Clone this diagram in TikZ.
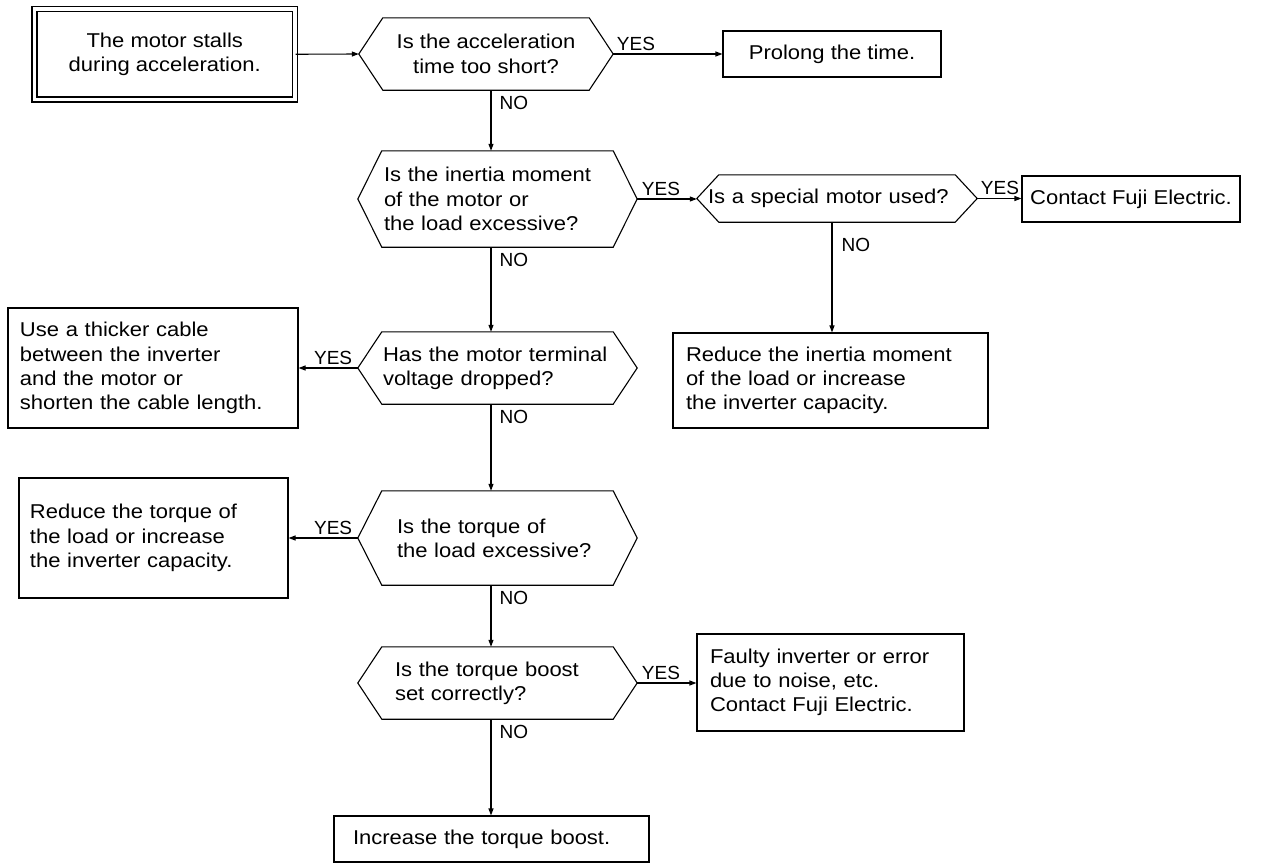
\documentclass[tikz,border=0pt]{standalone}
\usepackage{fontspec}
\setmainfont{Liberation Sans}
\newfontfamily\boxfont{Liberation Sans}[FakeStretch=1.1]
\usetikzlibrary{arrows.meta}
\tikzset{
  every node/.style={inner sep=0pt},
  line/.style={line width=1.1bp, black},
  arr/.style={line, -{Triangle[length=7bp,width=5bp]}},
  txt/.style={font=\boxfont\fontsize{20bp}{24.3bp}\selectfont},
  plainbox/.style={txt, draw, line width=1.1bp},
  hex/.style={txt},
  lbl/.style={font=\fontsize{19bp}{22bp}\selectfont, inner sep=0.5bp},
}
\newcommand\hexdraw[2]{%
  \draw[line] ([xshift=#2]#1.north west) -- ([xshift=-#2]#1.north east) -- (#1.east)
    -- ([xshift=-#2]#1.south east) -- ([xshift=#2]#1.south west) -- (#1.west) -- cycle;}
\begin{document}
\begin{tikzpicture}[x=1bp,y=-1bp]
\useasboundingbox (0,0) rectangle (1269,863);
\coordinate (sp) at (491,0);
\coordinate (sv) at (832,0);

% nodes
\node[txt, draw, line width=1.1bp, double, double distance=3.9bp, minimum width=260.5bp, minimum height=90.5bp, align=center]
  (start) at (164.75,54.25) {The motor stalls\\during acceleration.};

\node[hex, minimum width=254bp, minimum height=72bp, align=center] (h1) at (486,54) {Is the acceleration\\time too short?};
\hexdraw{h1}{24bp}
\node[plainbox, minimum width=218bp, minimum height=46bp] (prolong) at (832,54) {Prolong the time.};

\node[hex, minimum width=279bp, minimum height=96bp, text width=227bp, align=left] (h2) at (497.5,199)
  {Is the inertia moment\\of the motor or\\the load excessive?};
\hexdraw{h2}{24bp}

\node[hex, minimum width=280bp, minimum height=47bp, text width=258bp, align=left] (h3) at (837,198.5) {Is a special motor used?};
\hexdraw{h3}{22bp}
\node[plainbox, minimum width=218bp, minimum height=46bp] (contact) at (1131,199) {Contact Fuji Electric.};

\node[plainbox, minimum width=315bp, minimum height=95bp, text width=289bp, align=left] (rinertia) at (830.5,380.5)
  {Reduce the inertia moment\\of the load or increase\\the inverter capacity.};

\node[hex, minimum width=279bp, minimum height=72bp, text width=229bp, align=left] (h4) at (497.5,368)
  {Has the motor terminal\\voltage dropped?};
\hexdraw{h4}{24bp}
\node[plainbox, minimum width=290bp, minimum height=120bp, text width=266bp, align=left] (thick) at (153,368)
  {Use a thicker cable\\between the inverter\\and the motor or\\shorten the cable length.};

\node[hex, minimum width=279bp, minimum height=94bp, text width=201bp, align=left] (h5) at (497.5,538)
  {Is the torque of\\the load excessive?};
\hexdraw{h5}{24bp}
\node[plainbox, minimum width=269bp, minimum height=120bp, text width=247bp, align=left] (rtorque) at (153.5,538)
  {Reduce the torque of\\the load or increase\\the inverter capacity.};

\node[hex, minimum width=279bp, minimum height=72bp, text width=205bp, align=left] (h6) at (497.5,683)
  {Is the torque boost\\set correctly?};
\hexdraw{h6}{24bp}
\node[plainbox, minimum width=267bp, minimum height=97bp, text width=241bp, align=left] (faulty) at (830.5,682.5)
  {Faulty inverter or error\\due to noise, etc.\\Contact Fuji Electric.};

\node[plainbox, minimum width=315bp, minimum height=46bp, text width=277bp, align=left] (final) at (491.5,839)
  {Increase the torque boost.};

% connectors
\draw[arr] (start.east) -- (h1.west);
\draw[arr] (h1.east) -- (h1.east -| prolong.west);
\draw[arr] (h1.south -| sp) -- (h2.north -| sp);
\draw[arr] (h2.east) -- (h2.east -| h3.west);
\draw[arr] (h3.east) -- (h3.east -| contact.west);
\draw[arr] (h3.south -| sv) -- (rinertia.north -| sv);
\draw[arr] (h2.south -| sp) -- (h4.north -| sp);
\draw[arr] (h4.west) -- (h4.west -| thick.east);
\draw[arr] (h4.south -| sp) -- (h5.north -| sp);
\draw[arr] (h5.west) -- (h5.west -| rtorque.east);
\draw[arr] (h5.south -| sp) -- (h6.north -| sp);
\draw[arr] (h6.east) -- (h6.east -| faulty.west);
\draw[arr] (h6.south -| sp) -- (final.north -| sp);

% labels
\node[lbl, anchor=south west] (y1) at ([xshift=3bp,yshift=3bp]h1.east) {YES};
\node[lbl, anchor=north west] (n1) at ([xshift=8bp,yshift=-5bp]h1.south -| sp) {NO};
\node[lbl, anchor=south west] (y2) at ([xshift=4bp,yshift=3bp]h2.east) {YES};
\node[lbl, anchor=north west] (n2) at ([xshift=8bp,yshift=-5bp]h2.south -| sp) {NO};
\node[lbl, anchor=south west] (y3) at ([xshift=3bp,yshift=3bp]h3.east) {YES};
\node[lbl, anchor=north west] (n3) at ([xshift=9bp,yshift=-15bp]h3.south -| sv) {NO};
\node[lbl, anchor=south east] (y4) at ([xshift=-5bp,yshift=3bp]h4.west) {YES};
\node[lbl, anchor=north west] (n4) at ([xshift=8bp,yshift=-5bp]h4.south -| sp) {NO};
\node[lbl, anchor=south east] (y5) at ([xshift=-5bp,yshift=3bp]h5.west) {YES};
\node[lbl, anchor=north west] (n5) at ([xshift=8bp,yshift=-5bp]h5.south -| sp) {NO};
\node[lbl, anchor=south west] (y6) at ([xshift=4bp,yshift=3bp]h6.east) {YES};
\node[lbl, anchor=north west] (n6) at ([xshift=8bp,yshift=-5bp]h6.south -| sp) {NO};
\end{tikzpicture}
\end{document}
